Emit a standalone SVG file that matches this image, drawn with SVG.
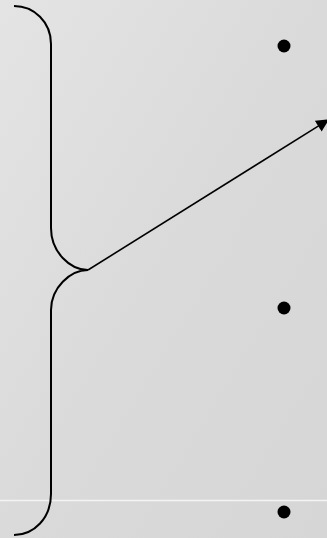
<svg xmlns="http://www.w3.org/2000/svg" width="327" height="538" viewBox="0 0 327 538">
<defs>
<linearGradient id="bg" x1="0" y1="0" x2="1" y2="1">
<stop offset="0" stop-color="#e4e4e4"/>
<stop offset="0.5" stop-color="#dadada"/>
<stop offset="1" stop-color="#d6d6d6"/>
</linearGradient>
<marker id="ah" viewBox="0 0 10 10" refX="9" refY="5" markerWidth="8.5" markerHeight="8" orient="auto" markerUnits="strokeWidth">
<path d="M0,0 L10,5 L0,10 Z" fill="#000"/>
</marker>
<style>
.brace{fill:none;stroke:#000;stroke-width:2}
.conn{fill:none;stroke:#000;stroke-width:1.6}
.dot{fill:#000}
</style>
</defs>
<rect width="327" height="538" fill="url(#bg)"/>
<line x1="0" y1="500.5" x2="327" y2="500.5" stroke="#f4f4f4" stroke-width="1.5"/>
<g id="brace">
<path class="brace" d="M14,6 C34,6 51,22 51,44 L51,228 C51,252 70,270 88,270 C70,270 51,288 51,310 L51,494 C51,518 34,535 14,535"/>
</g>
<g id="bullet1"><circle class="dot" cx="284" cy="46" r="6.5"/></g>
<g id="bullet2"><circle class="dot" cx="284" cy="308" r="6.5"/></g>
<g id="bullet3"><circle class="dot" cx="284" cy="512" r="6.5"/></g>
<g id="connectors">
<line class="conn" x1="88" y1="270" x2="328" y2="120" marker-end="url(#ah)"/>
</g>
</svg>
